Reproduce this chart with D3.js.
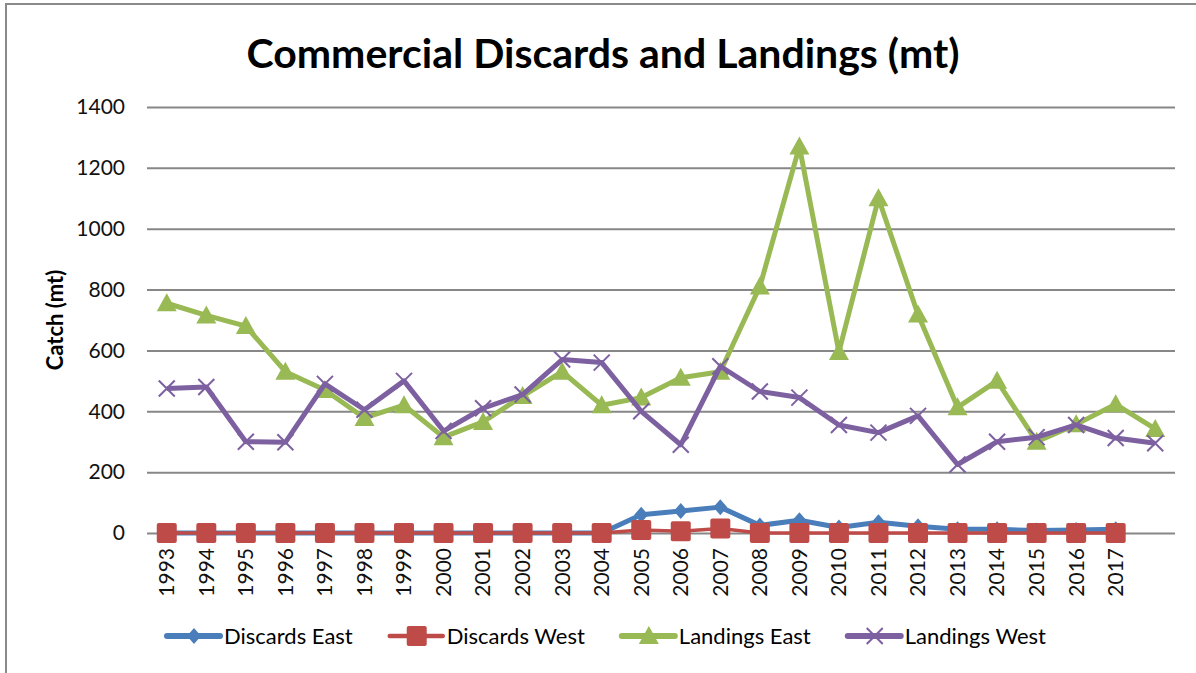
<!DOCTYPE html>
<meta charset="utf-8">
<script src="https://d3js.org/d3.v7.min.js"></script>
<style>
  body { margin: 0; background: #fff; }
  text { font-family: Lato, "Liberation Sans", sans-serif; }
</style>
<div id="my_dataviz"></div>
<script>

    // categories (last one has no label in the original)
    const years = ["1993","1994","1995","1996","1997","1998","1999","2000","2001","2002",
                   "2003","2004","2005","2006","2007","2008","2009","2010","2011","2012",
                   "2013","2014","2015","2016","2017",""]

    const seriesNames = ["Discards East", "Discards West", "Landings East", "Landings West"]

    const discardsEast = [0,0,0,0,0,0,0,0,0,0,0,0,60,72,85,25,42,18,35,22,12,12,8,10,12,null]
    const discardsWest = [0,0,0,0,0,0,0,0,0,0,0,0,10,6,15,0,0,0,0,0,0,0,0,0,0,null]
    const landingsEast = [755,715,680,530,470,378,420,315,365,450,530,420,445,510,530,810,1270,595,1100,718,413,500,300,357,423,342]
    const landingsWest = [475,480,300,298,490,405,500,335,410,455,570,560,400,290,548,465,445,355,330,385,225,300,315,355,312,295]

    const yTicks = [0,200,400,600,800,1000,1200,1400]

    const width = 1196, height = 673

    const svg = d3.select("#my_dataviz")
      .append("svg")
        .attr("width", width)
        .attr("height", height)

    // outer chart frame (cut by the window on right / bottom)
    svg.append("rect")
        .attr("x", 6).attr("y", 4)
        .attr("width", 1400).attr("height", 900)
        .attr("fill", "none")
        .attr("stroke", "#8a8a8a")
        .attr("stroke-width", 2)

    // title
    svg.append("text")
        .attr("x", 603)
        .attr("y", 68)
        .attr("text-anchor", "middle")
        .style("font-weight", "bold")
        .style("font-size", "41px")
        .text("Commercial Discards and Landings (mt)")

    // scales
    const x = d3.scaleBand()
        .domain(years)
        .range([147, 1175])
    const cx = d => x(d) + x.bandwidth() / 2

    const y = d3.scaleLinear()
        .domain([0, 1400])
        .range([533, 107])

    // gridlines + y labels
    const yAxis = svg.append("g")
        .attr("transform", "translate(147,0)")
        .call(d3.axisLeft(y).tickValues(yTicks).tickSize(-(1175 - 147)).tickPadding(22).tickFormat(d3.format("d")))
    yAxis.select(".domain").remove()
    yAxis.selectAll(".tick line").attr("stroke", "#878787").attr("stroke-width", 2)
    yAxis.selectAll(".tick text")
        .attr("fill", "#111")
        .style("font-size", "21px")
        .style("font-family", "Lato, sans-serif")

    // x labels
    const xAxis = svg.append("g")
        .attr("transform", "translate(0,533)")
        .call(d3.axisBottom(x).tickSize(0).tickFormat(d => d))
    xAxis.select(".domain").remove()
    xAxis.selectAll(".tick text")
        .attr("fill", "#111")
        .style("font-size", "21px")
        .style("font-family", "Lato, sans-serif")
        .attr("text-anchor", "end")
        .attr("dy", "0.35em")
        .attr("transform", "translate(0,15) rotate(-90)")
        .attr("y", 0).attr("x", 0)

    // y axis title
    svg.append("text")
        .attr("transform", "translate(63,320) rotate(-90)")
        .attr("text-anchor", "middle")
        .style("font-weight", "bold")
        .style("font-size", "22px")
        .text("Catch (mt)")

    const colors = ["#4a7ebb", "#be4b48", "#98b954", "#7d60a0"]
    const widths = [5, 3.5, 5, 5]
    const allData = [discardsEast, discardsWest, landingsEast, landingsWest]

    // marker drawing
    function marker(g, i, px, py) {
      if (i === 0) {
        g.append("path")
          .attr("d", `M${px},${py-8}L${px+7},${py}L${px},${py+8}L${px-7},${py}Z`)
          .attr("fill", colors[i])
      } else if (i === 1) {
        g.append("rect")
          .attr("x", px - 10).attr("y", py - 10)
          .attr("width", 20).attr("height", 20)
          .attr("rx", 2)
          .attr("fill", colors[i])
      } else if (i === 2) {
        g.append("path")
          .attr("d", `M${px},${py-10}L${px+10},${py+8}L${px-10},${py+8}Z`)
          .attr("fill", colors[i])
      } else {
        g.append("path")
          .attr("d", `M${px-8},${py-8}L${px+8},${py+8}M${px+8},${py-8}L${px-8},${py+8}`)
          .attr("stroke", colors[i])
          .attr("stroke-width", 2)
      }
    }

    const line = d3.line()
        .defined(d => d.v !== null)
        .x(d => cx(d.year))
        .y(d => y(d.v))

    allData.forEach(function(vals, i) {
      const pts = years.map((yr, k) => ({year: yr, v: vals[k]}))
      const g = svg.append("g")
      g.append("path")
        .datum(pts)
        .attr("fill", "none")
        .attr("stroke", colors[i])
        .attr("stroke-width", widths[i])
        .attr("stroke-linejoin", "round")
        .attr("d", line)
      pts.filter(d => d.v !== null).forEach(d => marker(g, i, cx(d.year), y(d.v)))
    })

    // legend
    const legend = svg.append("g")
    let lx = 167
    seriesNames.forEach(function(name, i) {
      const ly = 636
      legend.append("line")
        .attr("x1", lx).attr("x2", lx + 53)
        .attr("y1", ly).attr("y2", ly)
        .attr("stroke", colors[i])
        .attr("stroke-width", widths[i] + 1)
        .attr("stroke-linecap", "round")
      marker(legend, i, lx + 27, ly)
      const t = legend.append("text")
        .attr("x", lx + 57)
        .attr("y", ly)
        .attr("dy", "0.35em")
        .style("font-size", "22px")
        .text(name)
      lx += 57 + t.node().getComputedTextLength() + 37
    })

</script>
